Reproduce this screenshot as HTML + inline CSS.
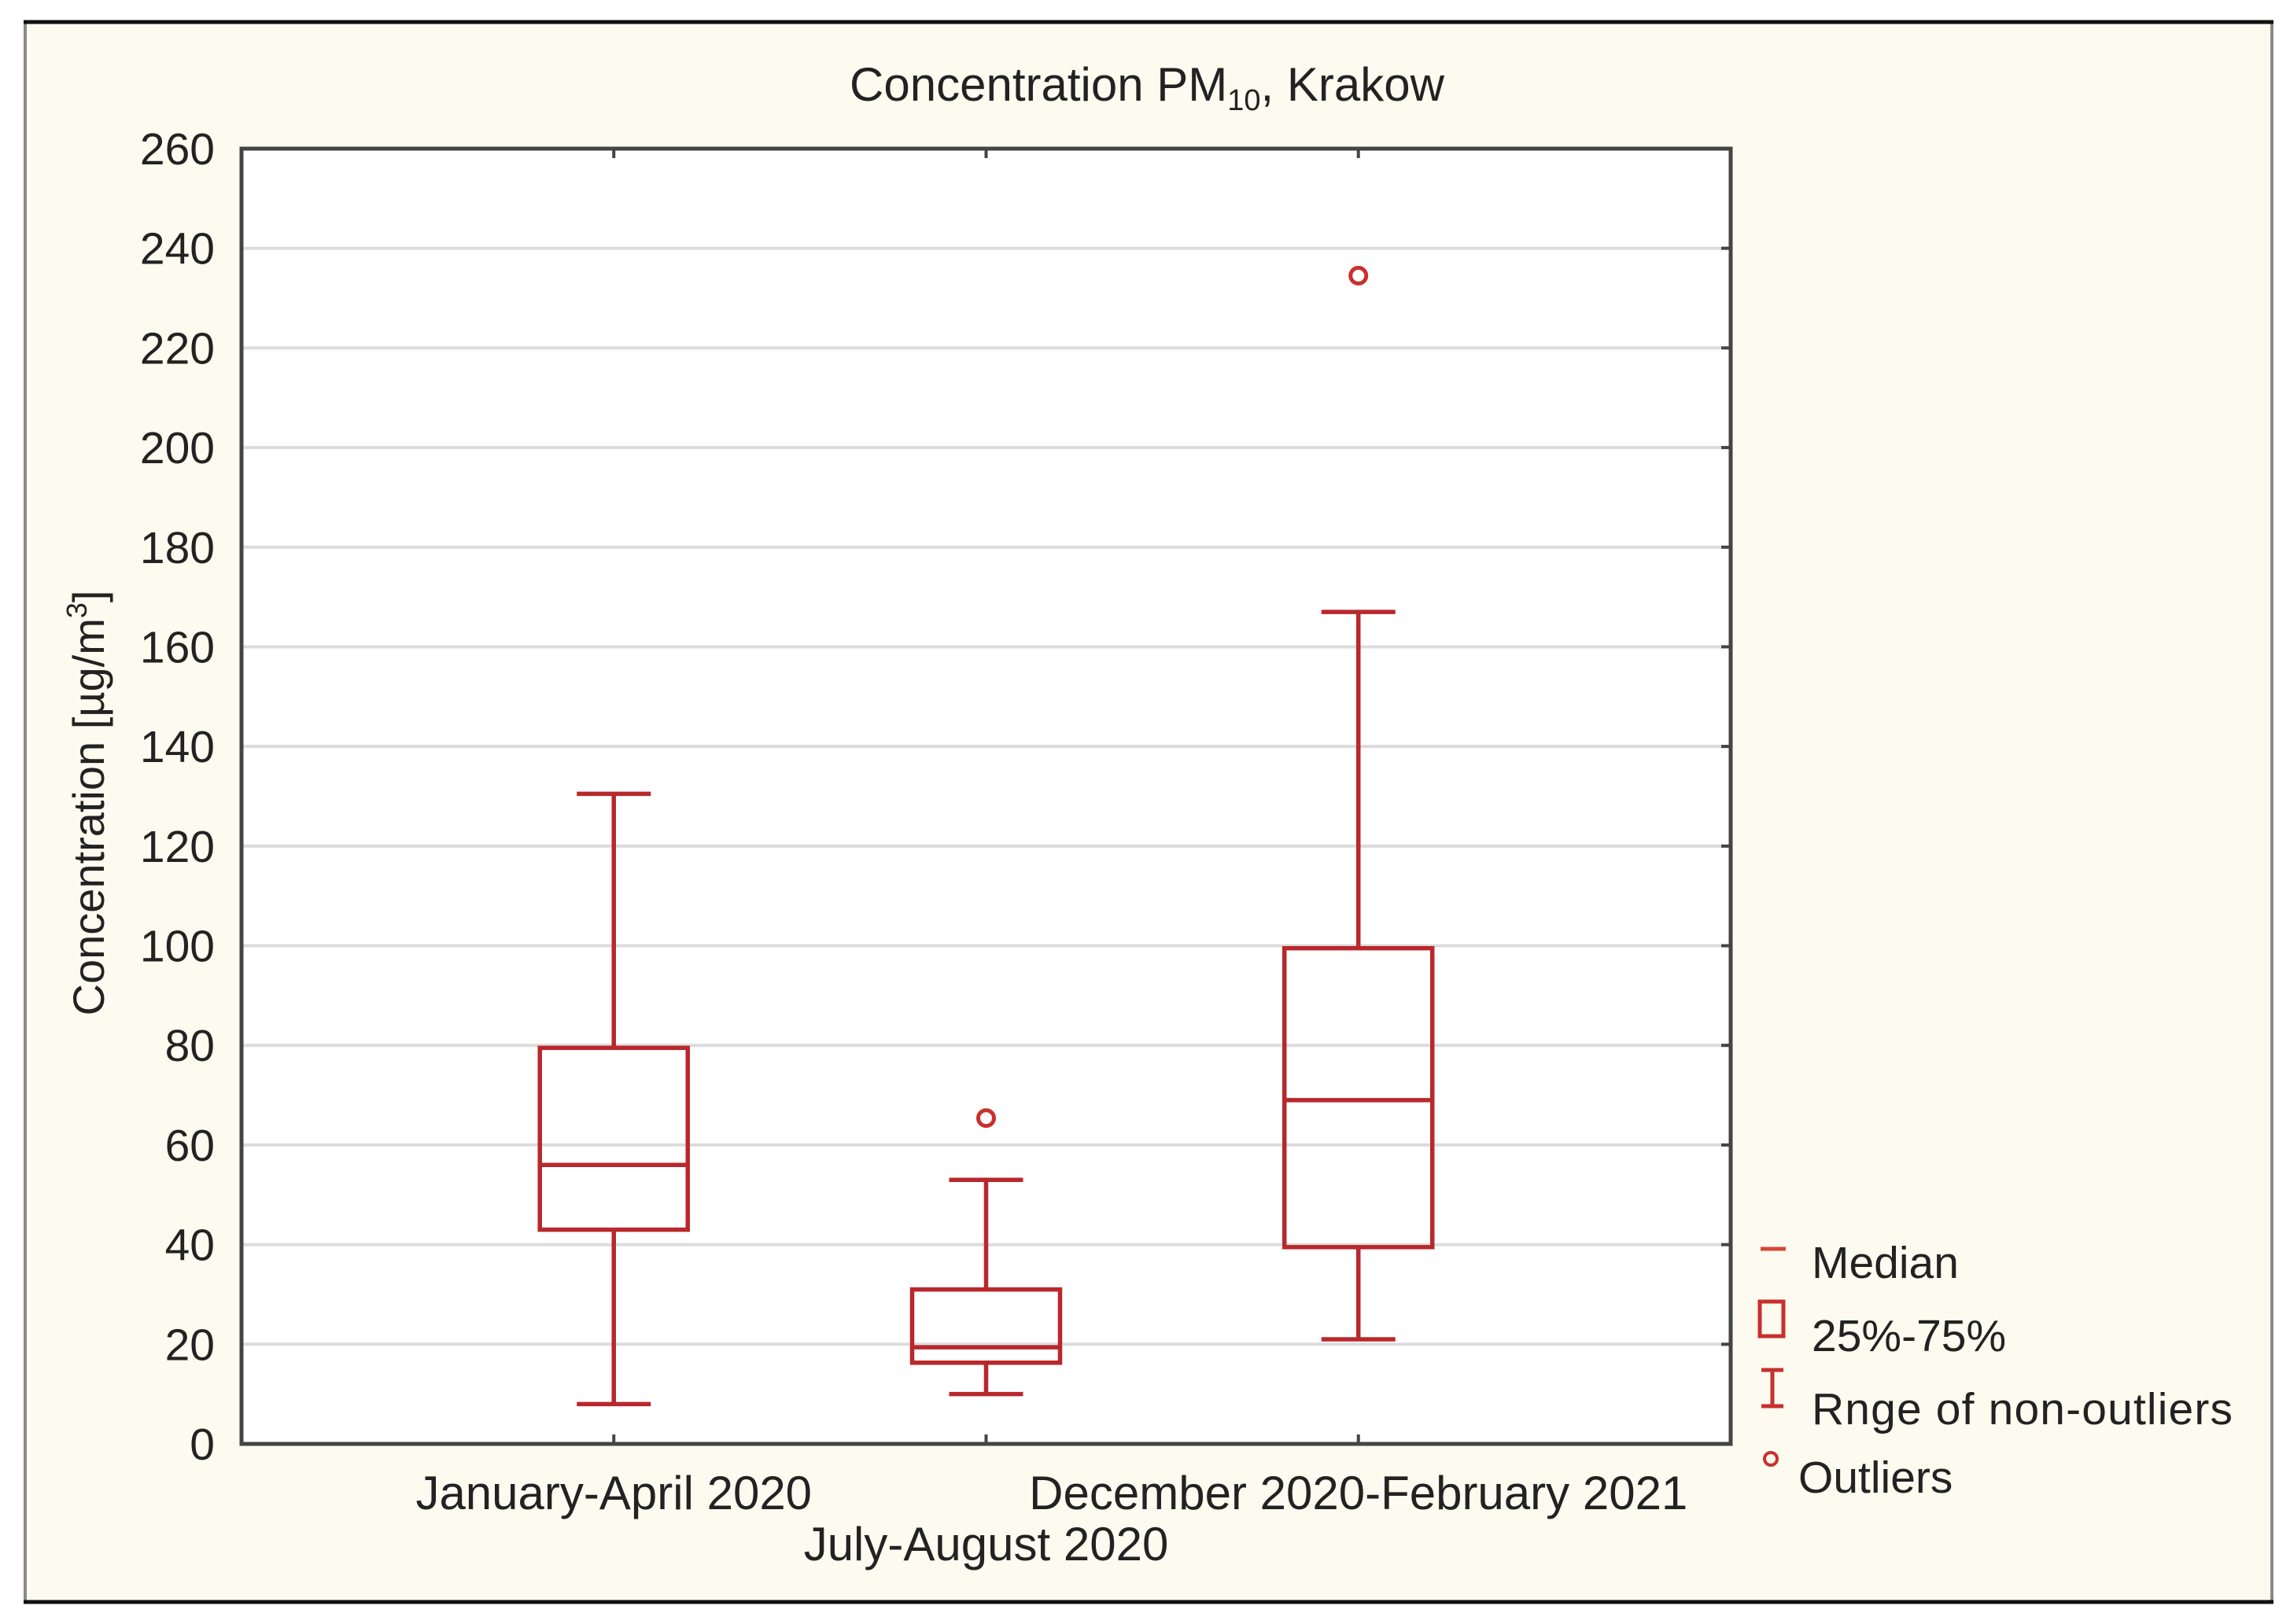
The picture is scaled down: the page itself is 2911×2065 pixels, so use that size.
<!DOCTYPE html>
<html><head><meta charset="utf-8"><style>
html,body{margin:0;padding:0;background:#fff;}
svg{display:block;font-family:"Liberation Sans",sans-serif;}
</style></head><body>
<svg id="chart" width="2911" height="2065" viewBox="0 0 2911 2065" xmlns="http://www.w3.org/2000/svg">
<rect x="32" y="28" width="2856" height="2009" fill="#fdfaef" stroke="#8a8a8a" stroke-width="4"/>
<line x1="30" y1="28" x2="2890" y2="28" stroke="#111" stroke-width="5"/>
<line x1="30" y1="2037" x2="2890" y2="2037" stroke="#111" stroke-width="5"/>
<text x="1458" y="128" font-size="60" text-anchor="middle" fill="#222">Concentration PM<tspan font-size="38" dy="12">10</tspan><tspan dy="-12">, Krakow</tspan></text>
<rect x="307" y="189" width="1893" height="1647" fill="#fff"/>
<g id="grid"></g>
<g id="boxes"></g>
<rect x="307" y="189" width="1893" height="1647" fill="none" stroke="#444" stroke-width="5"/>
<g id="yticks"></g>
<g id="xlabels"></g>
<text transform="translate(132,1021) rotate(-90)" font-size="56" text-anchor="middle" fill="#222">Concentration [µg/m<tspan font-size="36" dy="-22">3</tspan><tspan dy="22">]</tspan></text>
<g fill="#222" font-size="57">
<line x1="2238" y1="1588" x2="2270" y2="1588" stroke="#d8473a" stroke-width="5"/>
<text x="2303" y="1625">Median</text>
<rect x="2237" y="1655" width="30" height="44" fill="none" stroke="#c8302e" stroke-width="5"/>
<text x="2303" y="1718">25%-75%</text>
<path d="M2239 1742H2267M2253 1742V1788M2239 1788H2267" stroke="#c8302e" stroke-width="5" fill="none"/>
<text x="2303" y="1811" textLength="535">Rnge of non-outliers</text>
<circle cx="2251" cy="1855" r="8" fill="none" stroke="#c8302e" stroke-width="4"/>
<text x="2286" y="1898">Outliers</text>
</g>
</svg>
<script>
const categories = ["January-April 2020","July-August 2020","December 2020-February 2021"];
const whiskerLow = [8, 10, 21];
const q1 = [43, 16.3, 39.5];
const medians = [56, 19.4, 69];
const q3 = [79.5, 31, 99.5];
const whiskerHigh = [130.5, 53, 167];
const outliers = [[], [65.4], [234.5]];
const yTicks = [0,20,40,60,80,100,120,140,160,180,200,220,240,260];

const NS = "http://www.w3.org/2000/svg";
const L = 307, R = 2200, T = 189, B = 1836, YMAX = 260;
const y = v => B - v / YMAX * (B - T);
const x = i => L + (i + 1) * (R - L) / (categories.length + 1);
function mk(tag, attrs, parent) {
  const e = document.createElementNS(NS, tag);
  for (const k in attrs) e.setAttribute(k, attrs[k]);
  parent.appendChild(e);
  return e;
}
const grid = document.getElementById('grid');
const yt = document.getElementById('yticks');
yTicks.forEach(v => {
  if (v > 0 && v < YMAX) {
    const g = mk('line', {x1: L, x2: R, y1: y(v), y2: y(v), stroke: '#dcdcdc', 'stroke-width': 4}, grid);
    
    
    const tk = mk('line', {x1: R - 12, x2: R, y1: y(v), y2: y(v), stroke: '#444', 'stroke-width': 4}, yt);
    
    
  }
  const t = mk('text', {x: 273, y: y(v) + 20, 'font-size': 57, 'text-anchor': 'end', fill: '#222'}, yt);
  t.textContent = v;
  
  
});
const bx = document.getElementById('boxes');
const xl = document.getElementById('xlabels');
const red = '#b8282c';
const bw = 188, cw = 94;
categories.forEach((c, i) => {
  const cx = x(i);
  const g = mk('g', {stroke: red, 'stroke-width': 5.5, fill: 'none'}, bx);
  
  
  const wh = mk('path', {d: `M${cx} ${y(q3[i])}V${y(whiskerHigh[i])}M${cx-cw/2} ${y(whiskerHigh[i])}H${cx+cw/2}M${cx} ${y(q1[i])}V${y(whiskerLow[i])}M${cx-cw/2} ${y(whiskerLow[i])}H${cx+cw/2}`}, g);
  
  
  const r = mk('rect', {x: cx - bw/2, y: y(q3[i]), width: bw, height: y(q1[i]) - y(q3[i])}, g);
  
  
  const m = mk('line', {x1: cx - bw/2, x2: cx + bw/2, y1: y(medians[i]), y2: y(medians[i])}, g);
  
  
  outliers[i].forEach(o => {
    const p = mk('circle', {cx: cx, cy: y(o), r: 10, 'stroke-width': 5, stroke: '#c8302e'}, g);
    
    
  });
  const tt = mk('line', {x1: cx, x2: cx, y1: T, y2: T + 12, stroke: '#444', 'stroke-width': 4}, xl);
  
  
  const tb = mk('line', {x1: cx, x2: cx, y1: B, y2: B - 12, stroke: '#444', 'stroke-width': 4}, xl);
  
  
  const lab = mk('text', {x: cx, y: (i % 2 ? 1984 : 1919), 'font-size': 60, 'text-anchor': 'middle', fill: '#222'}, xl);
  lab.textContent = c;
  
  
});
</script>
</body></html>
